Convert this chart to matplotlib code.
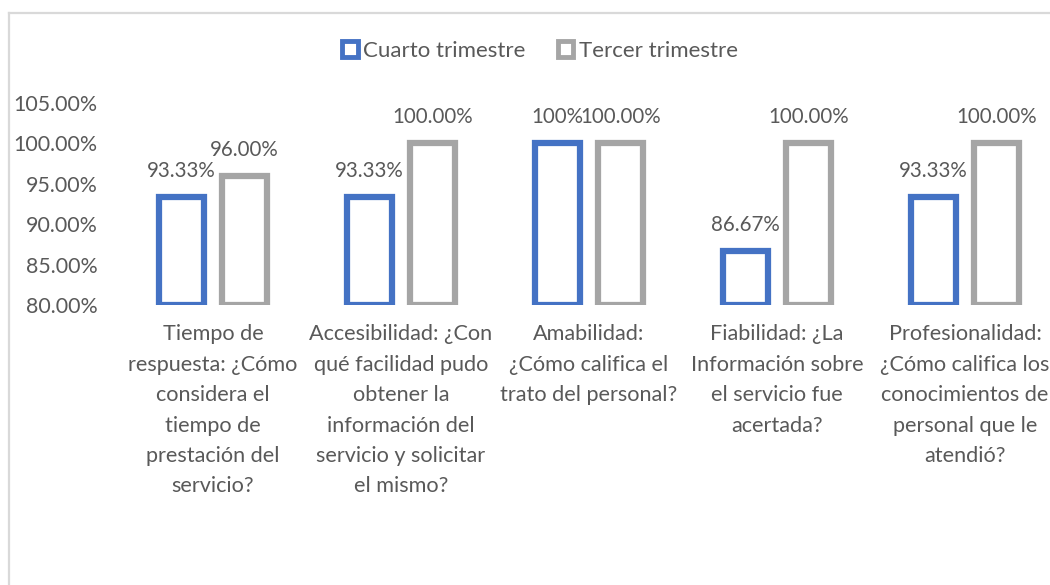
import matplotlib
matplotlib.use("Agg") # no display
from matplotlib import pyplot as plt
from matplotlib.patches import Patch
from matplotlib.lines import Line2D
import matplotlib.ticker as ticker
import numpy as np


categories = [
    "Tiempo de\nrespuesta: ¿Cómo\nconsidera el\ntiempo de\nprestación del\nservicio?",
    "Accesibilidad: ¿Con\nqué facilidad pudo\nobtener la\ninformación del\nservicio y solicitar\nel mismo?",
    "Amabilidad:\n¿Cómo califica el\ntrato del personal?",
    "Fiabilidad: ¿La\nInformación sobre\nel servicio fue\nacertada?",
    "Profesionalidad:\n¿Cómo califica los\nconocimientos de\npersonal que le\natendió?",
]
cuarto = [0.9333, 0.9333, 1.0, 0.8667, 0.9333]
tercero = [0.96, 1.0, 1.0, 1.0, 1.0]
cuarto_labels = ["93.33%", "93.33%", "100%", "86.67%", "93.33%"]
tercero_labels = ["96.00%", "100.00%", "100.00%", "100.00%", "100.00%"]
series_names = ["Cuarto trimestre", "Tercer trimestre"]

blue = "#4472c4"
grey = "#a5a5a5"
text_color = "#595959"
font = "Lato"

fig = plt.figure(figsize=(10.5, 5.85), dpi=100)
ax = fig.add_axes([119/1050, 280/585, 940/1050, 202/585])

x = np.arange(len(categories))
offset = 0.168
width = 0.24

for values, labels, color, sign in [(cuarto, cuarto_labels, blue, -1), (tercero, tercero_labels, grey, 1)]:
    bars = ax.bar(x + sign*offset, np.array(values) - 0.80, bottom=0.80, width=width,
                  facecolor="white", edgecolor=color, linewidth=4.5)
    # data labels above each bar
    for bar, label in zip(bars, labels):
        ax.text(bar.get_x() + bar.get_width()/2, bar.get_y() + bar.get_height() + 0.020,
                label, ha="center", va="bottom", fontsize=14.8, color=text_color,
                family=font)

# axis decorating
ax.set_xlim(-0.5, len(categories) - 0.5)
ax.set_ylim(0.80, 1.05)
ax.yaxis.set_major_locator(ticker.MultipleLocator(0.05))
ax.yaxis.set_major_formatter(ticker.FuncFormatter(lambda v, pos: f"{v*100:.2f}%"))
ax.set_xticks(x)
ax.set_xticklabels(categories, linespacing=1.65)
ax.tick_params(axis="both", length=0, labelcolor=text_color)
ax.tick_params(axis="x", pad=14, labelsize=15.6)
ax.tick_params(axis="y", pad=15.5, labelsize=15.4)
for lbl in ax.get_xticklabels() + ax.get_yticklabels():
    lbl.set_family(font)
for spine in ax.spines.values():
    spine.set_visible(False)
ax.patch.set_visible(False)

# legend with hollow squares
handles = [Patch(facecolor="white", edgecolor=c, linewidth=3.5) for c in (blue, grey)]
leg = fig.legend(handles, series_names, loc="center", bbox_to_anchor=(540/1050, 1 - 51/585),
                 ncol=2, frameon=False, handlelength=0.7, handleheight=0.7,
                 handletextpad=0.25, columnspacing=1.45,
                 prop={"family": font, "size": 16})
for t in leg.get_texts():
    t.set_color(text_color)

# chart border (only left and top visible in the crop)
fig.add_artist(Line2D([8.5/1050, 8.5/1050], [0, 1 - 12.5/585], transform=fig.transFigure,
                      color="#d9d9d9", linewidth=1.6))
fig.add_artist(Line2D([8.5/1050, 1], [1 - 12.5/585, 1 - 12.5/585], transform=fig.transFigure,
                      color="#d9d9d9", linewidth=1.6))

fig.savefig("out.png", dpi=100)
plt.close(fig)
